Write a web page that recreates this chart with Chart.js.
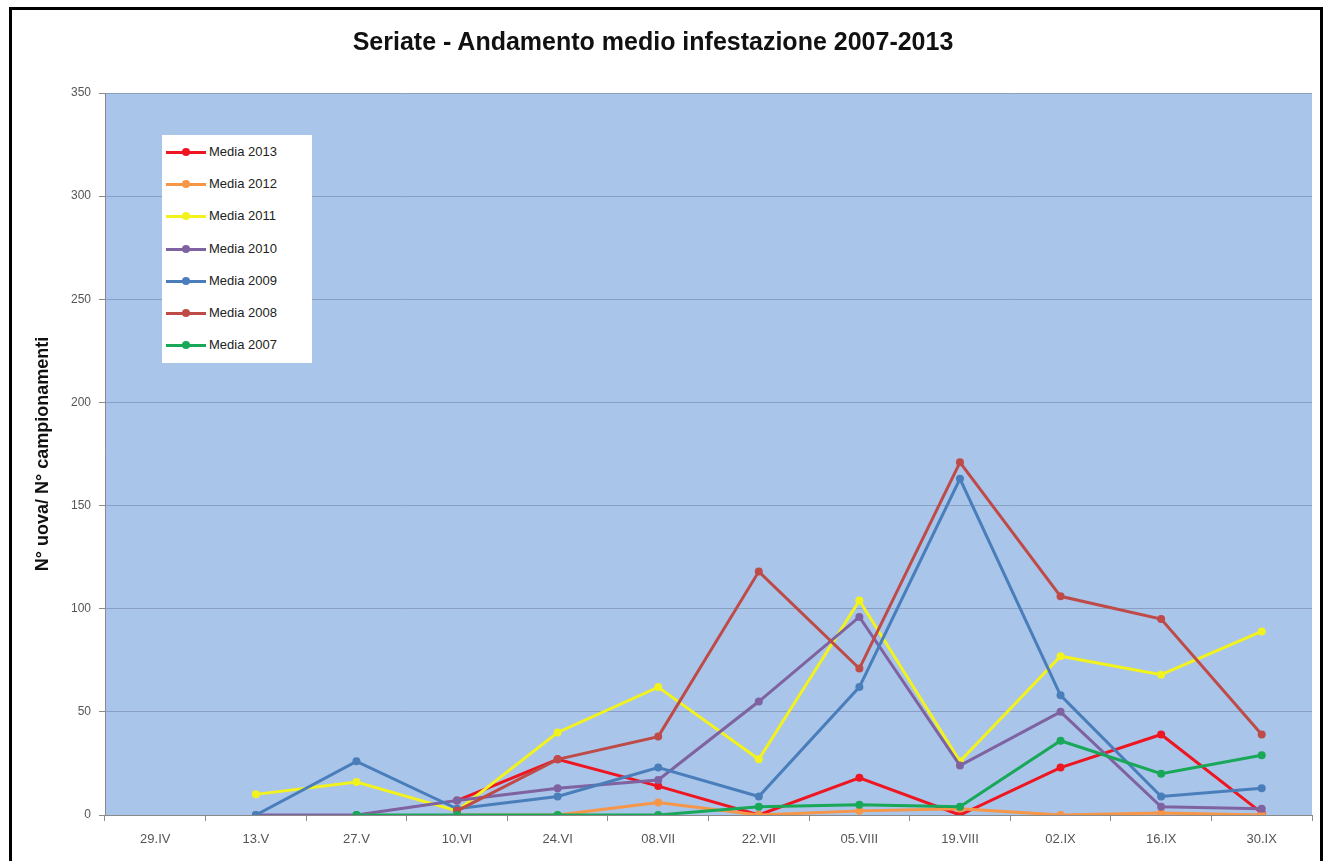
<!DOCTYPE html>
<html>
<head>
<meta charset="utf-8">
<script src="https://cdn.jsdelivr.net/npm/chart.js@4/dist/chart.umd.min.js"></script>
<style>
  html, body { margin:0; padding:0; background:#fff; width:1326px; height:861px; overflow:hidden; }
  #wrap { position:relative; width:1326px; height:861px; }
  #frame { position:absolute; left:9px; top:7px; width:1308px; height:900px; border:3px solid #000; pointer-events:none; }
  #title { position:absolute; left:0; top:27px; width:1306px; text-align:center; font:bold 25px "Liberation Sans",Arial,sans-serif; color:#111; }
  #legend { position:absolute; left:162px; top:135px; width:150px; height:228px; background:#fff; }
  .li { position:absolute; left:4px; height:20px; width:145px; }
  .li .ln { position:absolute; left:0; top:9px; width:40px; height:3px; }
  .li .dt { position:absolute; left:16px; top:6px; width:8px; height:8px; border-radius:50%; }
  .li .tx { position:absolute; left:43px; top:2px; font:13px "Liberation Sans",Arial,sans-serif; color:#222; white-space:nowrap; }
  canvas { position:absolute; left:0; top:0; }
</style>
</head>
<body>
<div id="wrap">
  <canvas id="c" width="1326" height="861"></canvas>
  <div id="title">Seriate - Andamento medio infestazione 2007-2013</div>
  <div id="legend"></div>
  <div id="frame"></div>
</div>
<script>
const categories = ['29.IV','13.V','27.V','10.VI','24.VI','08.VII','22.VII','05.VIII','19.VIII','02.IX','16.IX','30.IX'];
const seriesNames = ['Media 2013','Media 2012','Media 2011','Media 2010','Media 2009','Media 2008','Media 2007'];
const media2013 = [null, null, null, 7, 27, 14, 0, 18, 0, 23, 39, 1];
const media2012 = [null, null, null, 0, 0, 6, 0, 2, 3, 0, 1, 0];
const media2011 = [null, 10, 16, 2, 40, 62, 27, 104, 26, 77, 68, 89];
const media2010 = [null, 0, 0, 7, 13, 17, 55, 96, 24, 50, 4, 3];
const media2009 = [null, 0, 26, 3, 9, 23, 9, 62, 163, 58, 9, 13];
const media2008 = [null, null, null, 2, 27, 38, 118, 71, 171, 106, 95, 39];
const media2007 = [null, null, 0, 0, 0, 0, 4, 5, 4, 36, 20, 29];
const yTicks = [0, 50, 100, 150, 200, 250, 300, 350];

const seriesData = [media2013, media2012, media2011, media2010, media2009, media2008, media2007];
const colors = ['#EE1620', '#F79646', '#F2F21E', '#7F62A0', '#4A7EBB', '#BE4B48', '#18A858'];

const datasets = seriesNames.map((name, i) => ({
  label: name,
  data: seriesData[i],
  borderColor: colors[i],
  backgroundColor: colors[i],
  borderWidth: 3,
  pointRadius: 4,
  pointHoverRadius: 4,
  pointBorderWidth: 0,
  tension: 0,
  spanGaps: false,
  order: seriesNames.length - 1 - i
}));

// HTML legend built from the series names/colors
const lg = document.getElementById('legend');
seriesNames.forEach((name, i) => {
  const d = document.createElement('div');
  d.className = 'li';
  d.style.top = (7 + i * 32.2) + 'px';
  d.innerHTML = '<div class="ln" style="background:' + colors[i] + '"></div>' +
                '<div class="dt" style="background:' + colors[i] + '"></div>' +
                '<div class="tx">' + name + '</div>';
  lg.appendChild(d);
});

const plotBg = {
  id: 'plotBg',
  beforeDraw(chart) {
    const {ctx, chartArea: a} = chart;
    ctx.save();
    ctx.fillStyle = '#A9C5EA';
    ctx.fillRect(a.left, a.top, a.right - a.left, a.bottom - a.top);
    ctx.restore();
  }
};

const fam = '"Liberation Sans",Arial,sans-serif';

new Chart(document.getElementById('c'), {
  type: 'line',
  data: { labels: categories, datasets },
  options: {
    responsive: false,
    animation: false,
    events: [],
    layout: { padding: { top: 93, right: 14, bottom: 0, left: 0 } },
    plugins: { legend: { display: false }, title: { display: false }, tooltip: { enabled: false } },
    scales: {
      x: {
        type: 'category',
        offset: true,
        grid: { display: true, drawOnChartArea: false, offset: true, tickLength: 6, tickColor: '#8A8A8A' },
        border: { display: true, color: '#8A8A8A', width: 1 },
        ticks: { color: '#555', font: { family: fam, size: 13 }, padding: 11, maxRotation: 0, autoSkip: false },
        afterFit(s) { s.height = 46; }
      },
      y: {
        min: 0, max: 350,
        afterBuildTicks(s) { s.ticks = yTicks.map(v => ({ value: v })); },
        grid: { color: '#8AA0C2', lineWidth: 1, tickLength: 6, tickColor: '#8A8A8A' },
        border: { display: true, color: '#8A8A8A', width: 1 },
        ticks: { color: '#555', font: { family: fam, size: 12 }, padding: 8 },
        title: {
          display: true,
          text: 'N° uova/ N° campionamenti',
          color: '#111',
          font: { family: fam, size: 18, weight: 'bold' },
          padding: { top: 32, bottom: 0 }
        },
        afterFit(s) { s.width = 105; }
      }
    }
  },
  plugins: [plotBg]
});
</script>
</body>
</html>
